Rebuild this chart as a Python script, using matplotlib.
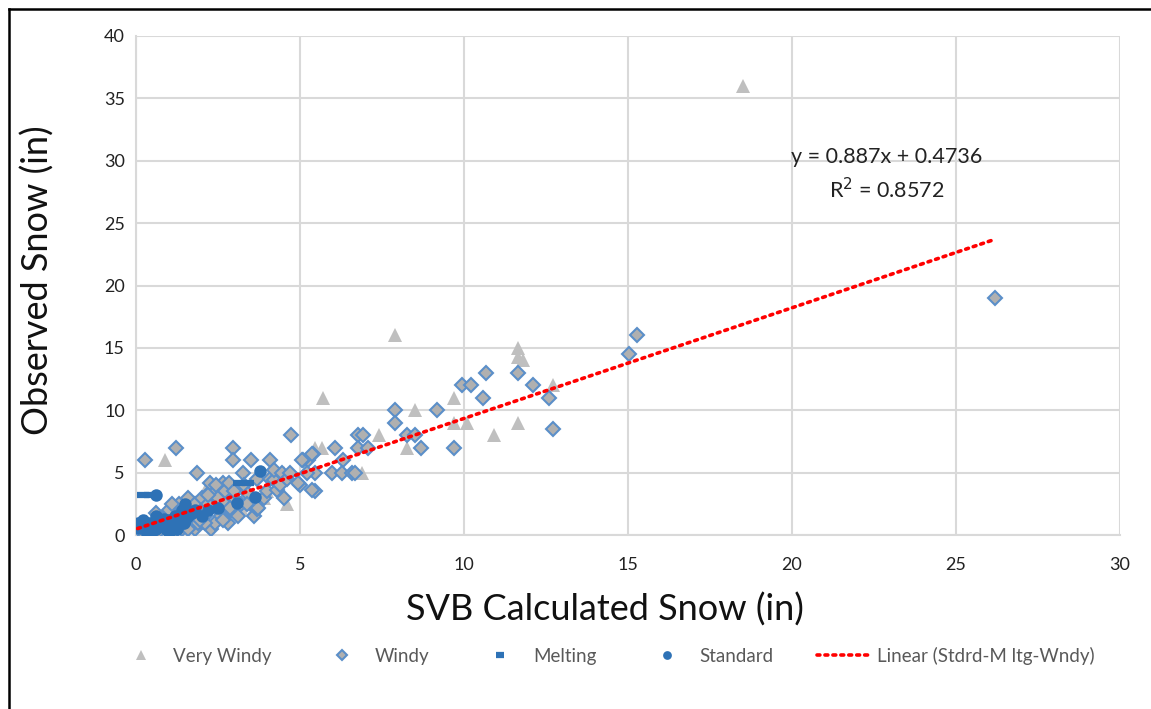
import matplotlib
matplotlib.use("Agg")
import matplotlib.pyplot as plt
from matplotlib.lines import Line2D
import numpy as np

plt.rcParams['font.family'] = ['Lato', 'DejaVu Sans']

# ---- data -------------------------------------------------------------
very_windy_x = [18.5, 7.9, 11.65, 11.65, 11.8, 5.7, 9.7, 8.5, 12.7, 11.65,
                10.9, 9.7, 10.1, 8.26, 7.4, 5.45, 5.67, 6.9, 0.88, 4.6,
                3.57, 2.47, 2.1, 3.9, 2.6, 2.2, 1.2, 0.5, 1.8, 3.2,
                4.0, 4.5, 1.5, 2.9, 3.6]
very_windy_y = [36, 16, 15, 14.3, 14, 11, 11, 10, 12, 9,
                8, 9, 9, 7, 8, 7, 7, 5, 6, 2.5,
                2, 4, 1, 3, 3.5, 4, 1.5, 0.5, 1.2, 2.2,
                3.5, 5, 2.5, 4, 2.5]

windy_x = [26.2, 15.27, 15.03, 9.94, 10.2, 10.67, 11.65, 10.58, 12.1, 12.6,
           12.7, 9.7, 7.9, 7.9, 9.18, 8.26, 8.5, 8.7, 6.77, 6.92,
           6.77, 7.07, 6.07, 6.3, 5.97, 6.28, 6.58, 6.68, 5.46, 5.4,
           5.24, 5.1, 5.46, 5.0, 4.73, 0.27, 1.22, 1.86, 2.96, 2.96,
           3.5, 4.1, 3.26, 5.37, 5.06,
           0.1, 0.2, 0.3, 0.4, 0.5, 0.6, 0.7, 0.8, 0.9, 1.0,
           1.0, 1.1, 1.2, 1.3, 1.3, 1.4, 1.5, 1.5, 1.6, 1.7,
           1.8, 1.8, 1.9, 2.0, 2.0, 2.1, 2.2, 2.3, 2.3, 2.4,
           2.5, 2.5, 2.6, 2.65, 2.7, 2.7, 2.8, 2.85, 2.9, 3.0,
           3.0, 3.1, 3.2, 3.3, 3.4, 3.5, 3.6, 3.7, 3.7, 3.9,
           4.0, 4.1, 4.2, 4.2, 4.3, 4.4, 4.45, 4.5, 4.6, 4.7,
           4.95, 5.2, 5.36, 2.25, 2.44, 2.2, 1.1, 0.6, 1.6, 2.1,
           3.38, 3.72, 2.87, 2.65, 0.35, 0.75, 1.35, 1.95]
windy_y = [19, 16, 14.5, 12, 12, 13, 13, 11, 12, 11,
           8.5, 7, 10, 9, 10, 8, 8, 7, 8, 8,
           7, 7, 7, 6, 5, 5, 5, 5, 3.5, 6.5,
           6, 6, 5, 4, 8, 6, 7, 5, 7, 6,
           6, 6, 5, 6.5, 6,
           0.5, 0.2, 1, 0.5, 0.2, 1, 0.3, 0.8, 1.5, 0.5,
           2, 1, 0.3, 1.5, 2.5, 0.5, 1, 2, 3, 1.5,
           0.5, 2.5, 1, 2, 3, 1.5, 2.5, 0.5, 3.5, 1,
           2, 3, 1.5, 4.2, 2.5, 3.5, 1, 4.2, 2, 3,
           3.5, 1.5, 2.5, 4, 3.3, 2.5, 1.5, 2.1, 4.5, 3,
           3.5, 4.5, 4.4, 5.2, 3.6, 4, 5, 3, 4.5, 5,
           4.2, 5, 3.6, 4.2, 4, 3.2, 2.5, 1.8, 0.5, 1,
           2.5, 2.2, 2.2, 1.2, 0.2, 1.2, 0.7, 1.2]

melting_x = [0.2, 0.42, 3.15, 3.4]
melting_y = [3.2, 3.2, 4.2, 4.2]

standard_x = [0.05, 0.1, 0.15, 0.3, 0.4, 0.5, 0.6, 0.7, 0.8, 0.9,
              1.0, 1.1, 1.2, 1.3, 1.4, 1.5, 1.6, 1.7, 1.8, 2.0,
              2.2, 2.5, 3.07, 3.63, 3.78, 0.62, 1.5, 0.35, 0.6, 1.0,
              1.25, 0.2, 0.85, 1.15, 1.45]
standard_y = [1.0, 0.6, 0.8, 0.5, 1.0, 0.3, 0.5, 1.0, 0.8, 0.5,
              1.2, 1.0, 1.5, 1.0, 2.0, 2.5, 1.5, 1.8, 2.0, 1.5,
              2.0, 2.2, 2.55, 3.05, 5.15, 3.2, 1.2, 0.2, 1.5, 0.2,
              0.5, 1.2, 1.3, 0.7, 1.0]

# linear fit reported on the chart
slope, intercept, r_squared = 0.887, 0.4736, 0.8572

x_ticks = [0, 5, 10, 15, 20, 25, 30]
y_ticks = [0, 5, 10, 15, 20, 25, 30, 35, 40]

# ---- figure -----------------------------------------------------------
fig = plt.figure(figsize=(11.51, 7.09), dpi=100)
ax = fig.add_axes([136 / 1151, 1 - 535 / 709, (1120 - 136) / 1151, (535 - 36) / 709])

grid_c = '#D9D9D9'
ax.set_xlim(0, 30)
ax.set_ylim(0, 40)
ax.set_xticks(x_ticks)
ax.set_yticks(y_ticks)
ax.grid(True, color=grid_c, linewidth=1.5)
ax.set_axisbelow(True)
for side in ['top', 'right']:
    ax.spines[side].set_visible(False)
for side in ['left', 'bottom']:
    ax.spines[side].set_color(grid_c)
    ax.spines[side].set_linewidth(1.5)
ax.tick_params(length=0, labelsize=13, colors='#222222')
ax.tick_params(axis='x', pad=16)
ax.tick_params(axis='y', pad=8)

tri_c = '#BFBFBF'
dia_face = '#B0B0B0'
dia_edge = '#5B8FC9'
blue = '#2E72B6'

ax.plot(very_windy_x, very_windy_y, linestyle='none', marker='^', ms=10,
        color=tri_c, markeredgewidth=0, label='Very Windy', zorder=3)
ax.plot(windy_x, windy_y, linestyle='none', marker='D', ms=7,
        markerfacecolor=dia_face, markeredgecolor=dia_edge, markeredgewidth=1.5,
        label='Windy', zorder=4)
ax.plot(melting_x, melting_y, linestyle='none', marker='_', ms=9,
        markeredgewidth=4.5, color=blue, label='Melting', zorder=5)
ax.plot(standard_x, standard_y, linestyle='none', marker='o', ms=9,
        color=blue, markeredgewidth=0, label='Standard', zorder=5)

all_x = np.array(windy_x + melting_x + standard_x)
fit_x = np.array([all_x.min(), all_x.max()])
ax.plot(fit_x, slope * fit_x + intercept, color='#FF0000', linewidth=2.6,
        linestyle=(0, (0.8, 1.4)), dash_capstyle='round',
        label='Linear (Stdrd-M ltg-Wndy)', zorder=6)

ax.text(22.9, 28.9, f'y = {slope}x + {intercept}\nR$^2$ = {r_squared}',
        ha='center', va='center', fontsize=15.5, color='#222222', linespacing=1.45)

ax.set_xlabel('SVB Calculated Snow (in)', fontsize=26, color='#111111')
ax.set_ylabel('Observed Snow (in)', fontsize=26, color='#111111')
ax.xaxis.set_label_coords(0.4766, -0.115)
ax.yaxis.set_label_coords(-0.083, 0.51)

leg = fig.legend(loc='center', bbox_to_anchor=(0.5246, 0.075), ncol=5, frameon=False,
                 fontsize=13.5, labelcolor='#595959', handlelength=2.9,
                 columnspacing=2.3, handletextpad=0.3, markerscale=0.7)

# outer frame of the chart area
fig.add_artist(Line2D([9 / 1151, 9 / 1151], [0, 1 - 9 / 709], transform=fig.transFigure,
                      color='black', linewidth=1.8))
fig.add_artist(Line2D([9 / 1151, 1], [1 - 9 / 709, 1 - 9 / 709], transform=fig.transFigure,
                      color='black', linewidth=1.8))

fig.savefig('out.png', dpi=100)
